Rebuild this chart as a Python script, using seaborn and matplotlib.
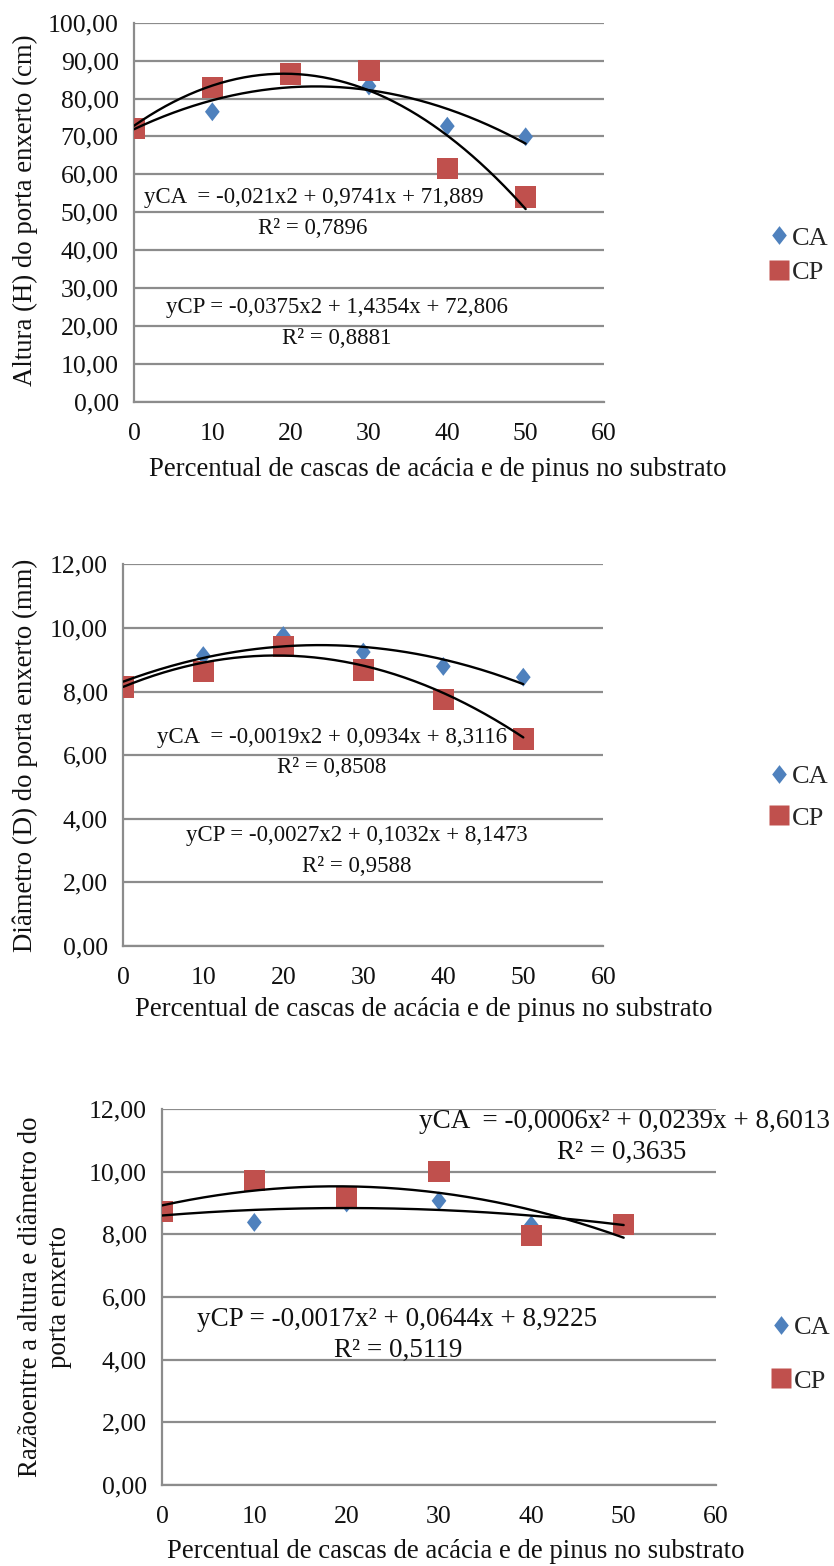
import numpy as np
import pandas as pd
import matplotlib
matplotlib.use("Agg")
import matplotlib.pyplot as plt
import seaborn as sns
from matplotlib.lines import Line2D
from matplotlib.ticker import FuncFormatter, MultipleLocator

# ---------------- data ----------------
x_pct = [0, 10, 20, 30, 40, 50]
x_ticks = [0, 10, 20, 30, 40, 50, 60]

altura_ca = [72.5, 76.5, 86.0, 83.3, 72.7, 69.9]
altura_cp = [72.1, 82.9, 86.5, 87.4, 61.6, 54.0]
diam_ca = [8.2, 9.13, 9.76, 9.24, 8.79, 8.45]
diam_cp = [8.14, 8.63, 9.42, 8.68, 7.74, 6.51]
razao_ca = [8.7, 8.38, 9.0, 9.07, 8.3, 8.3]
razao_cp = [8.72, 9.71, 9.2, 10.0, 7.96, 8.32]

coef_alt_ca = [-0.021, 0.9741, 71.889]
coef_alt_cp = [-0.0375, 1.4354, 72.806]
coef_diam_ca = [-0.0019, 0.0934, 8.3116]
coef_diam_cp = [-0.0027, 0.1032, 8.1473]
coef_raz_ca = [-0.0006, 0.0239, 8.6013]
coef_raz_cp = [-0.0017, 0.0644, 8.9225]

series_names = ["CA", "CP"]
xlabel_text = "Percentual de cascas de acácia e de pinus no substrato"
ylabels = ["Altura (H) do porta enxerto (cm)",
           "Diâmetro (D) do porta enxerto (mm)",
           "Razãoentre a altura e diâmetro do\nporta enxerto"]
eq_texts = [
    ["yCA  = -0,021x2 + 0,9741x + 71,889", "R² = 0,7896",
     "yCP = -0,0375x2 + 1,4354x + 72,806", "R² = 0,8881"],
    ["yCA  = -0,0019x2 + 0,0934x + 8,3116", "R² = 0,8508",
     "yCP = -0,0027x2 + 0,1032x + 8,1473", "R² = 0,9588"],
    ["yCA  = -0,0006x² + 0,0239x + 8,6013", "R² = 0,3635",
     "yCP = -0,0017x² + 0,0644x + 8,9225", "R² = 0,5119"],
]

# ---------------- style ----------------
sns.set_style("white")
plt.rcParams["font.family"] = ["Liberation Serif", "DejaVu Serif"]

W, H = 834, 1566
fig = plt.figure(figsize=(W / 100, H / 100), dpi=100)

BLUE = "#4F81BD"
RED = "#C0504D"
GRID = "#8c8c8c"
TXT = "#111111"
diamond = [(0, 1), (0.78, 0), (0, -1), (-0.78, 0), (0, 1)]

panels = [
    dict(box=(134, 22.7, 604, 401.7), ylim=(0, 100), ystep=10,
         ca=altura_ca, cp=altura_cp, cca=coef_alt_ca, ccp=coef_alt_cp,
         eq=[(314, 197), (313, 228), (337, 308), (337, 338)], eqfs=16.5,
         xl=(438, 470), yl=(25, 210),
         leg=(768, 255), legfs=19, legsp=0.4),
    dict(box=(123.3, 564.3, 603.3, 946), ylim=(0, 12), ystep=2,
         ca=diam_ca, cp=diam_cp, cca=coef_diam_ca, ccp=coef_diam_cp,
         eq=[(332, 738), (332, 768), (357, 835), (357, 867)], eqfs=16.5,
         xl=(424, 1010), yl=(25, 755),
         leg=(768, 797), legfs=19, legsp=0.7),
    dict(box=(162, 1109, 716, 1485), ylim=(0, 12), ystep=2,
         ca=razao_ca, cp=razao_cp, cca=coef_raz_ca, ccp=coef_raz_cp,
         eq=[(624, 1122), (622, 1152), (397, 1320), (398, 1350)], eqfs=19.5,
         xl=(456, 1551), yl=(45, 1297),
         leg=(770, 1354), legfs=19, legsp=1.15),
]

fmt = FuncFormatter(lambda v, p: f"{v:.2f}".replace(".", ","))

for i, P in enumerate(panels):
    l, t, r, b = P["box"]
    ax = fig.add_axes([l / W, 1 - b / H, (r - l) / W, (b - t) / H])

    df = pd.DataFrame({
        "x": x_pct * 2,
        "y": list(P["ca"]) + list(P["cp"]),
        "serie": ["CA"] * len(x_pct) + ["CP"] * len(x_pct),
    })
    sns.scatterplot(data=df[df.serie == "CA"], x="x", y="y", color=BLUE,
                    marker=diamond, s=185, edgecolor="none", ax=ax, zorder=3,
                    legend=False)
    sns.scatterplot(data=df[df.serie == "CP"], x="x", y="y", color=RED,
                    marker="s", s=235, edgecolor="none", ax=ax, zorder=3.5,
                    legend=False)

    xs = np.linspace(x_pct[0], x_pct[-1], 200)
    for coef in (P["cca"], P["ccp"]):
        sns.lineplot(x=xs, y=np.polyval(coef, xs), color="black", lw=1.7,
                     ax=ax, zorder=4)

    ax.set_xlim(0, 60)
    ax.set_ylim(*P["ylim"])
    ax.set_xticks(x_ticks)
    ax.set_xticklabels([str(v) for v in x_ticks])
    ax.yaxis.set_major_locator(MultipleLocator(P["ystep"]))
    ax.yaxis.set_major_formatter(fmt)
    ax.grid(axis="y", color=GRID, lw=1.6)
    ax.grid(axis="x", visible=False)
    ax.set_axisbelow(True)
    for s in ("top", "right"):
        ax.spines[s].set_visible(False)
    for s in ("left", "bottom"):
        ax.spines[s].set_color(GRID)
        ax.spines[s].set_linewidth(1.6)
    ax.tick_params(axis="both", direction="out", length=5, width=1.6,
                   color=GRID, labelsize=18.5, labelcolor=TXT)
    ax.tick_params(axis="y", pad=6)
    ax.tick_params(axis="x", pad=10)

    ax.set_xlabel(xlabel_text, fontsize=19.3, color=TXT)
    ax.xaxis.label.set_va("center")
    ax.xaxis.set_label_coords((P["xl"][0] - l) / (r - l),
                              (b - P["xl"][1]) / (b - t))
    ax.set_ylabel(ylabels[i], fontsize=19.3, color=TXT,
                  linespacing=1.25, ha="center")
    ax.yaxis.label.set_va("center")
    ax.yaxis.set_label_coords((P["yl"][0] - l) / (r - l),
                              (b - P["yl"][1]) / (b - t))

    for txt, (px, py) in zip(eq_texts[i], P["eq"]):
        fig.text(px / W, 1 - py / H, txt, ha="center", va="center",
                 fontsize=P["eqfs"], color=TXT)

    handles = [
        Line2D([], [], ls="none", marker=diamond, markersize=13.5,
               markerfacecolor=BLUE, markeredgecolor="none"),
        Line2D([], [], ls="none", marker="s", markersize=15,
               markerfacecolor=RED, markeredgecolor="none"),
    ]
    ax.legend(handles, series_names, loc="center left",
              bbox_to_anchor=(P["leg"][0] / W, 1 - P["leg"][1] / H),
              bbox_transform=fig.transFigure, frameon=False,
              fontsize=P["legfs"], handlelength=0.8, handletextpad=0.1,
              labelspacing=P["legsp"], borderaxespad=0, borderpad=0)

fig.savefig("out.png", dpi=100)
